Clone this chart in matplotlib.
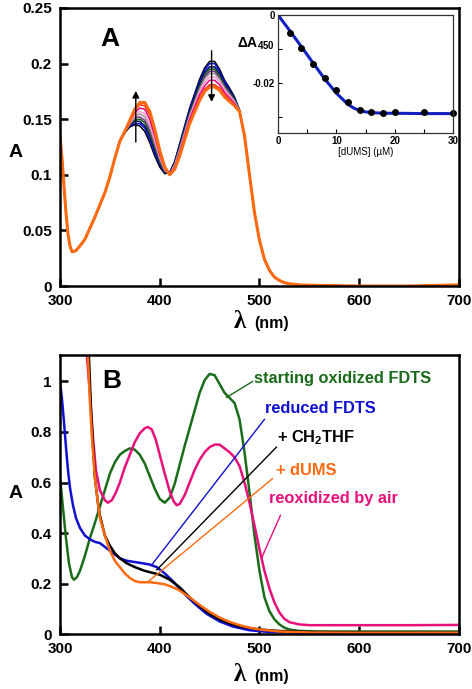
import numpy as np
import matplotlib
matplotlib.use('Agg')
import matplotlib.pyplot as plt

plt.rcParams['font.family'] = ['Liberation Sans', 'DejaVu Sans']
plt.rcParams['font.weight'] = 'bold'
plt.rcParams['mathtext.fontset'] = 'custom'
plt.rcParams['mathtext.rm'] = 'Liberation Sans:bold'
plt.rcParams['mathtext.bf'] = 'Liberation Sans:bold'
plt.rcParams['mathtext.default'] = 'rm'

# panel A data ---------------------------------------------------------------
# common part below 360 nm
lam_left = [300, 302, 304, 306, 308, 310, 312, 314, 316, 318, 320, 325, 330,
            335, 340, 345, 350, 355]
abs_left = [0.135, 0.115, 0.090, 0.066, 0.047, 0.036, 0.031, 0.031, 0.032,
            0.034, 0.036, 0.042, 0.052, 0.062, 0.073, 0.084, 0.098, 0.115]

# titration region, one list per spectrum (black -> orange)
lam_mid = [360, 365, 370, 375, 380, 385, 390, 395, 400, 405, 410, 415, 420,
           430, 440, 445, 450, 455, 460, 465, 470, 475, 480]
a_black = [0.131, 0.138, 0.143, 0.145, 0.144, 0.139, 0.129, 0.117, 0.107, 0.101,
           0.102, 0.112, 0.128, 0.160, 0.186, 0.196, 0.202, 0.202, 0.195, 0.185,
           0.178, 0.170, 0.158]
a_blue = [0.131, 0.138, 0.144, 0.146, 0.146, 0.142, 0.132, 0.119, 0.109, 0.102,
          0.102, 0.111, 0.127, 0.159, 0.184, 0.194, 0.200, 0.200, 0.193, 0.184,
          0.177, 0.169, 0.158]
a_navy = [0.131, 0.138, 0.144, 0.148, 0.148, 0.144, 0.135, 0.122, 0.110, 0.102,
          0.102, 0.111, 0.126, 0.157, 0.182, 0.192, 0.197, 0.197, 0.191, 0.182,
          0.176, 0.168, 0.158]
a_green = [0.131, 0.138, 0.145, 0.149, 0.150, 0.147, 0.137, 0.124, 0.111, 0.103,
           0.101, 0.110, 0.125, 0.156, 0.180, 0.190, 0.195, 0.195, 0.189, 0.180,
           0.174, 0.168, 0.158]
a_purple = [0.131, 0.138, 0.145, 0.151, 0.152, 0.149, 0.140, 0.127, 0.113, 0.103,
            0.101, 0.109, 0.124, 0.154, 0.178, 0.188, 0.193, 0.193, 0.187, 0.179,
            0.173, 0.167, 0.158]
a_grey = [0.131, 0.139, 0.146, 0.152, 0.155, 0.152, 0.143, 0.129, 0.115, 0.104,
          0.101, 0.109, 0.123, 0.153, 0.177, 0.186, 0.191, 0.191, 0.186, 0.178,
          0.172, 0.166, 0.158]
a_pink = [0.130, 0.139, 0.147, 0.153, 0.157, 0.155, 0.146, 0.131, 0.116, 0.105,
          0.101, 0.108, 0.121, 0.152, 0.175, 0.183, 0.188, 0.188, 0.184, 0.176,
          0.171, 0.165, 0.157]
a_magenta = [0.130, 0.139, 0.148, 0.156, 0.160, 0.159, 0.150, 0.135, 0.118, 0.106,
             0.101, 0.107, 0.120, 0.150, 0.172, 0.180, 0.185, 0.185, 0.181, 0.174,
             0.169, 0.164, 0.157]
a_red = [0.130, 0.139, 0.148, 0.158, 0.163, 0.162, 0.154, 0.139, 0.121, 0.106,
         0.100, 0.106, 0.118, 0.147, 0.169, 0.177, 0.181, 0.181, 0.178, 0.172,
         0.167, 0.163, 0.157]
a_orange = [0.130, 0.139, 0.149, 0.159, 0.165, 0.165, 0.157, 0.141, 0.122, 0.107,
            0.100, 0.105, 0.117, 0.146, 0.167, 0.175, 0.179, 0.179, 0.176, 0.170,
            0.166, 0.162, 0.157]

# common part above 480 nm
lam_right = [485, 490, 495, 500, 505, 510, 515, 520, 525, 530, 540, 560, 600,
             650, 700]
abs_right = [0.135, 0.100, 0.066, 0.041, 0.024, 0.014, 0.008, 0.005, 0.003,
             0.002, 0.001, 0.0005, 0.0, 0.0, 0.001]

spectra_a = [a_black, a_blue, a_navy, a_green, a_purple, a_grey, a_pink,
             a_magenta, a_red, a_orange]
colors_a = ['black', '#1010e0', '#000070', '#006400', '#7a2a8a', '#9a9a9a',
            '#ff9ccc', '#e6007e', '#ff2a00', '#ff6a10']

# inset data
dums_conc = [2, 4, 6, 8, 10, 12, 14, 16, 18, 20, 25, 30]
dA450 = [-0.0054, -0.0096, -0.0145, -0.0184, -0.0221, -0.0255, -0.0279,
         -0.0285, -0.0287, -0.0285, -0.0284, -0.0289]
fit_conc = [0, 2, 4, 6, 8, 10, 12, 13, 14, 15, 16, 18, 20, 25, 30]
fit_dA = [0.0, -0.0046, -0.0093, -0.0141, -0.0188, -0.0230, -0.0263, -0.0274,
          -0.0281, -0.0285, -0.0287, -0.0289, -0.0289, -0.0290, -0.0290]

# panel B data ---------------------------------------------------------------
lam_ox = [300, 303, 306, 309, 312, 314, 317, 320, 325, 330, 335, 340, 345, 350,
          355, 360, 365, 370, 375, 380, 385, 390, 395, 400, 405, 410, 415, 420,
          425, 430, 435, 440, 445, 450, 455, 460, 465, 470, 475, 480, 485, 490,
          495, 500, 505, 510, 515, 520, 525, 530, 540, 560, 600, 650, 700]
abs_ox = [0.62, 0.50, 0.38, 0.28, 0.225, 0.215, 0.225, 0.25, 0.31, 0.38, 0.44,
          0.505, 0.57, 0.635, 0.68, 0.71, 0.725, 0.735, 0.73, 0.71, 0.675, 0.625,
          0.575, 0.535, 0.52, 0.54, 0.595, 0.67, 0.745, 0.815, 0.885, 0.955,
          1.005, 1.03, 1.025, 0.99, 0.955, 0.935, 0.915, 0.85, 0.72, 0.56, 0.39,
          0.25, 0.145, 0.09, 0.058, 0.038, 0.025, 0.018, 0.012, 0.01, 0.01, 0.01,
          0.01]

lam_red = [300, 302, 304, 306, 308, 310, 313, 316, 320, 325, 330, 335, 340, 345,
           350, 355, 360, 367, 375, 383, 390, 397, 405, 413, 420, 427, 435, 447,
           460, 473, 490, 510, 550, 600, 700]
abs_red = [1.0, 0.93, 0.84, 0.74, 0.65, 0.58, 0.51, 0.46, 0.42, 0.39, 0.375,
           0.365, 0.36, 0.345, 0.33, 0.315, 0.30, 0.29, 0.285, 0.28, 0.275,
           0.265, 0.24, 0.21, 0.18, 0.15, 0.12, 0.08, 0.05, 0.03, 0.015, 0.008,
           0.004, 0.003, 0.003]

lam_thf = [327, 329, 331, 333, 335, 338, 340, 345, 350, 355, 360, 367, 375, 385,
           395, 400, 410, 420, 430, 440, 450, 460, 470, 480, 500, 520, 550, 600,
           700]
abs_thf = [1.25, 1.1, 0.9, 0.75, 0.62, 0.52, 0.47, 0.39, 0.35, 0.32, 0.30, 0.28,
           0.265, 0.25, 0.24, 0.235, 0.215, 0.185, 0.145, 0.11, 0.08, 0.058,
           0.042, 0.03, 0.018, 0.012, 0.008, 0.006, 0.005]

lam_dums = [326, 328, 330, 332, 335, 338, 340, 345, 350, 355, 360, 365, 370, 375,
            380, 385, 390, 395, 400, 405, 410, 415, 420, 430, 440, 450, 460, 470,
            480, 490, 500, 520, 550, 600, 700]
abs_dums = [1.25, 1.1, 0.92, 0.78, 0.62, 0.52, 0.46, 0.39, 0.33, 0.29, 0.265,
            0.24, 0.222, 0.21, 0.205, 0.205, 0.205, 0.203, 0.20, 0.197, 0.19,
            0.182, 0.172, 0.145, 0.115, 0.088, 0.065, 0.048, 0.035, 0.025, 0.018,
            0.01, 0.006, 0.005, 0.005]

lam_air = [325, 327, 330, 333, 336, 340, 345, 348, 352, 356, 360, 365, 370, 375,
           380, 385, 388, 392, 396, 400, 405, 410, 414, 417, 420, 425, 430, 435,
           440, 445, 450, 455, 460, 465, 470, 475, 480, 485, 490, 495, 500, 505,
           510, 515, 520, 525, 530, 540, 550, 600, 650, 700]
abs_air = [1.25, 1.1, 0.95, 0.78, 0.65, 0.57, 0.53, 0.52, 0.53, 0.56, 0.60,
           0.66, 0.71, 0.76, 0.795, 0.815, 0.82, 0.81, 0.77, 0.71, 0.635, 0.565,
           0.525, 0.51, 0.515, 0.55, 0.60, 0.65, 0.69, 0.72, 0.74, 0.75, 0.75,
           0.735, 0.72, 0.70, 0.665, 0.60, 0.52, 0.43, 0.335, 0.25, 0.18, 0.125,
           0.085, 0.06, 0.047, 0.038, 0.035, 0.035, 0.035, 0.036]

labels_b = ['starting oxidized FDTS', 'reduced FDTS', '+ CH$_2$THF', '+ dUMS',
            'reoxidized by air']
colors_b = ['#1a6b1a', '#1010d0', 'black', '#ff6a10', '#e8107a']


def style_axis(ax):
    for s in ax.spines.values():
        s.set_linewidth(1.8)
    ax.tick_params(direction='in', length=6, width=1.8, labelsize=11, pad=6)
    ax.set_xlim(300, 700)
    ax.set_xticks([300, 400, 500, 600, 700])
    ax.set_xticklabels(['300', '400', '500', '600', '700'])


fig = plt.figure(figsize=(4.72, 6.89), dpi=100)

# panel A --------------------------------------------------------------------
axA = fig.add_axes([0.1271, 0.5849, 0.8453, 0.4035])
for spec, col in zip(spectra_a, colors_a):
    lw = 2.2 if col == '#ff6a10' else 1.1
    axA.plot(lam_left + lam_mid + lam_right, abs_left + spec + abs_right,
             color=col, lw=lw)
style_axis(axA)
axA.set_ylim(0, 0.25)
axA.set_yticks([0, 0.05, 0.1, 0.15, 0.2, 0.25])
axA.set_yticklabels(['0', '0.05', '0.1', '0.15', '0.2', '0.25'])
axA.text(0.125, 0.89, 'A', transform=axA.transAxes, fontsize=19,
         ha='center', va='center')
axA.annotate('', xy=(376, 0.178), xytext=(376, 0.127),
             arrowprops=dict(arrowstyle='-|>', color='black', lw=1.0,
                             mutation_scale=10))
axA.annotate('', xy=(452, 0.163), xytext=(452, 0.214),
             arrowprops=dict(arrowstyle='-|>', color='black', lw=1.0,
                             mutation_scale=10))

# inset
axI = fig.add_axes([0.589, 0.807, 0.3708, 0.1713])
axI.plot(fit_conc, fit_dA, color='#1020c0', lw=2.2)
axI.plot(dums_conc, dA450, 'o', color='black', ms=4, clip_on=False)
axI.set_xlim(0, 30)
axI.set_ylim(-0.0347, 0)
axI.set_xticks([0, 5, 10, 15, 20, 25, 30])
axI.set_xticklabels(['0', '', '10', '', '20', '', '30'])
axI.set_yticks([0, -0.01, -0.02, -0.03])
axI.set_yticklabels(['0', '', '-0.02', ''])
for s in axI.spines.values():
    s.set_linewidth(0.9)
    s.set_color('#333333')
axI.tick_params(direction='in', length=3, width=0.8, labelsize=7, pad=2)
axI.set_xlabel('[dUMS] (\u00b5M)', fontsize=7, labelpad=1)
fig.text(0.582, 0.936, '\u0394A$_{450}$', fontsize=10, ha='right',
         va='center')

# x label A
fig.text(0.508, 0.534, '\u03bb', fontsize=18, family='Liberation Serif',
         ha='center', va='center')
fig.text(0.575, 0.531, '(nm)', fontsize=11.5, ha='center', va='center')
fig.text(0.032, 0.778, 'A', fontsize=14, ha='center', va='center')

# panel B --------------------------------------------------------------------
axB = fig.add_axes([0.1271, 0.0798, 0.8453, 0.405])
axB.plot(lam_ox, abs_ox, color=colors_b[0], lw=1.8)
axB.plot(lam_air, abs_air, color=colors_b[4], lw=1.8)
axB.plot(lam_red, abs_red, color=colors_b[1], lw=1.8)
axB.plot(lam_thf, abs_thf, color=colors_b[2], lw=1.8)
axB.plot(lam_dums, abs_dums, color=colors_b[3], lw=1.8)
style_axis(axB)
axB.set_ylim(0, 1.105)
axB.set_yticks([0, 0.2, 0.4, 0.6, 0.8, 1.0])
axB.set_yticklabels(['0', '0.2', '0.4', '0.6', '0.8', '1'])
axB.text(0.13, 0.905, 'B', transform=axB.transAxes, fontsize=19,
         ha='center', va='center')

# label leader lines: (curve point) -> (label point)
leaders = [((467, 0.937), (493, 1.0)),
           ((392, 0.274), (505, 0.85)),
           ((397, 0.254), (517, 0.74)),
           ((388, 0.206), (513, 0.615)),
           ((502, 0.30), (521, 0.47))]
label_pos = [(495, 1.012), (506, 0.893), (518, 0.778), (517, 0.647),
             (510, 0.536)]
for (p0, p1), (tx, ty), lab, col in zip(leaders, label_pos, labels_b, colors_b):
    axB.plot([p0[0], p1[0]], [p0[1], p1[1]], color=col, lw=1.0)
    axB.text(tx, ty, lab, color=col, fontsize=11.8, ha='left', va='center')

fig.text(0.508, 0.021, '\u03bb', fontsize=18, family='Liberation Serif',
         ha='center', va='center')
fig.text(0.575, 0.018, '(nm)', fontsize=11.5, ha='center', va='center')
fig.text(0.032, 0.284, 'A', fontsize=14, ha='center', va='center')

fig.savefig('out.png', dpi=100)
